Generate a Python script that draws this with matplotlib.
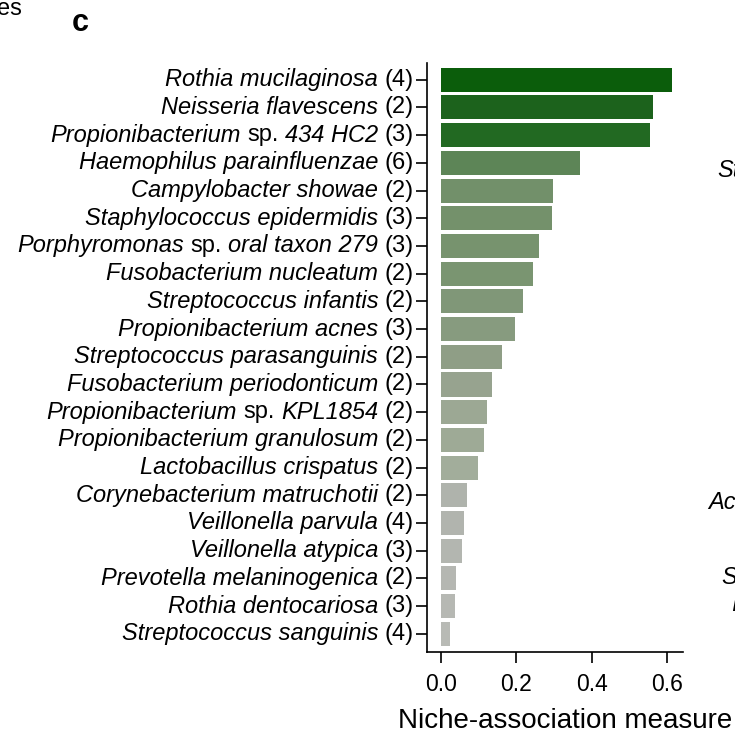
"""
Niche-association measure per species (panel c), horizontal bar chart
"""

import matplotlib
matplotlib.use("Agg")
import matplotlib.pyplot as plt

plt.rcParams['font.family'] = ['Liberation Sans', 'DejaVu Sans']

# species names split in pieces: "sp." is upright, everything else italic
species = [
    ["Rothia mucilaginosa"], ["Neisseria flavescens"], ["Propionibacterium", "sp.", "434 HC2"],
    ["Haemophilus parainfluenzae"], ["Campylobacter showae"], ["Staphylococcus epidermidis"],
    ["Porphyromonas", "sp.", "oral taxon 279"], ["Fusobacterium nucleatum"], ["Streptococcus infantis"],
    ["Propionibacterium acnes"], ["Streptococcus parasanguinis"], ["Fusobacterium periodonticum"],
    ["Propionibacterium", "sp.", "KPL1854"], ["Propionibacterium granulosum"], ["Lactobacillus crispatus"],
    ["Corynebacterium matruchotii"], ["Veillonella parvula"], ["Veillonella atypica"],
    ["Prevotella melaninogenica"], ["Rothia dentocariosa"], ["Streptococcus sanguinis"],
]
counts = [4, 2, 3, 6, 2, 3, 3, 2, 2, 3, 2, 2, 2, 2, 2, 2, 4, 3, 2, 3, 4]
values = [0.613, 0.563, 0.555, 0.368, 0.297, 0.294, 0.261, 0.245, 0.219, 0.198,
          0.162, 0.135, 0.122, 0.115, 0.099, 0.070, 0.062, 0.056, 0.040, 0.038, 0.024]
colors = ["#0b5d0b", "#1c621c", "#226922", "#5d8557", "#72906a", "#74916b", "#77936e",
          "#7a9571", "#809778", "#879b7f", "#8f9e86", "#97a38f", "#9ca894", "#9eaa96",
          "#a2ad9b", "#afb3ac", "#b1b4ae", "#b3b6b0", "#b5b7b2", "#b6b8b3", "#b8bab5"]
xticks = [0.0, 0.2, 0.4, 0.6]

FS = 17
SPACE = 0.278 * FS  # width of a space in points

fig = plt.figure(figsize=(7.35, 7.34), dpi=100)
ax = fig.add_axes([0.581, 0.112, 0.348, 0.802])

pos = list(range(len(species)))
ax.barh(pos, values, height=0.87, color=colors, edgecolor='none')

ax.set_ylim(20.65, -0.6)
ax.set_xlim(-0.036, 0.641)

ax.set_yticks(pos)
ax.set_yticklabels([])
ax.tick_params(axis='y', length=8, width=1.2)

# labels drawn right to left, each piece chained to the one on its right
for i, (parts, n) in enumerate(zip(species, counts)):
    prev = ax.annotate(f"({n})", xy=(0, i), xycoords=('axes fraction', 'data'),
                       xytext=(-9.5, 0), textcoords='offset points',
                       ha='right', va='center', fontsize=FS)
    for p in reversed(parts):
        st = 'normal' if p == "sp." else 'italic'
        prev = ax.annotate(p, xy=(0, 0.5), xycoords=prev,
                           xytext=(-SPACE, 0), textcoords='offset points',
                           ha='right', va='center', fontsize=FS, style=st)

ax.set_xticks(xticks)
ax.set_xticklabels([f"{t:.1f}" for t in xticks], fontsize=16.5)
ax.tick_params(axis='x', length=8, width=1.2, pad=7)
ax.set_xlabel("Niche-association measure", fontsize=20, labelpad=9, x=0.54)

for s in ['top', 'right']:
    ax.spines[s].set_visible(False)
for s in ['left', 'bottom']:
    ax.spines[s].set_linewidth(1.2)

# panel letter and clipped fragments of the neighbouring panels
fig.text(0.097, 0.968, "c", fontsize=22, fontweight='bold', va='center')
fig.text(0.030, 0.988, "es", fontsize=17, ha='right', va='center')
fig.text(0.976, 0.768, "St", fontsize=17, style='italic', va='center')
fig.text(0.963, 0.315, "Ac", fontsize=17, style='italic', va='center')
fig.text(0.982, 0.213, "S", fontsize=17, style='italic', va='center')
fig.text(0.994, 0.176, "I", fontsize=17, style='italic', va='center')

fig.savefig("out.png", dpi=100)
